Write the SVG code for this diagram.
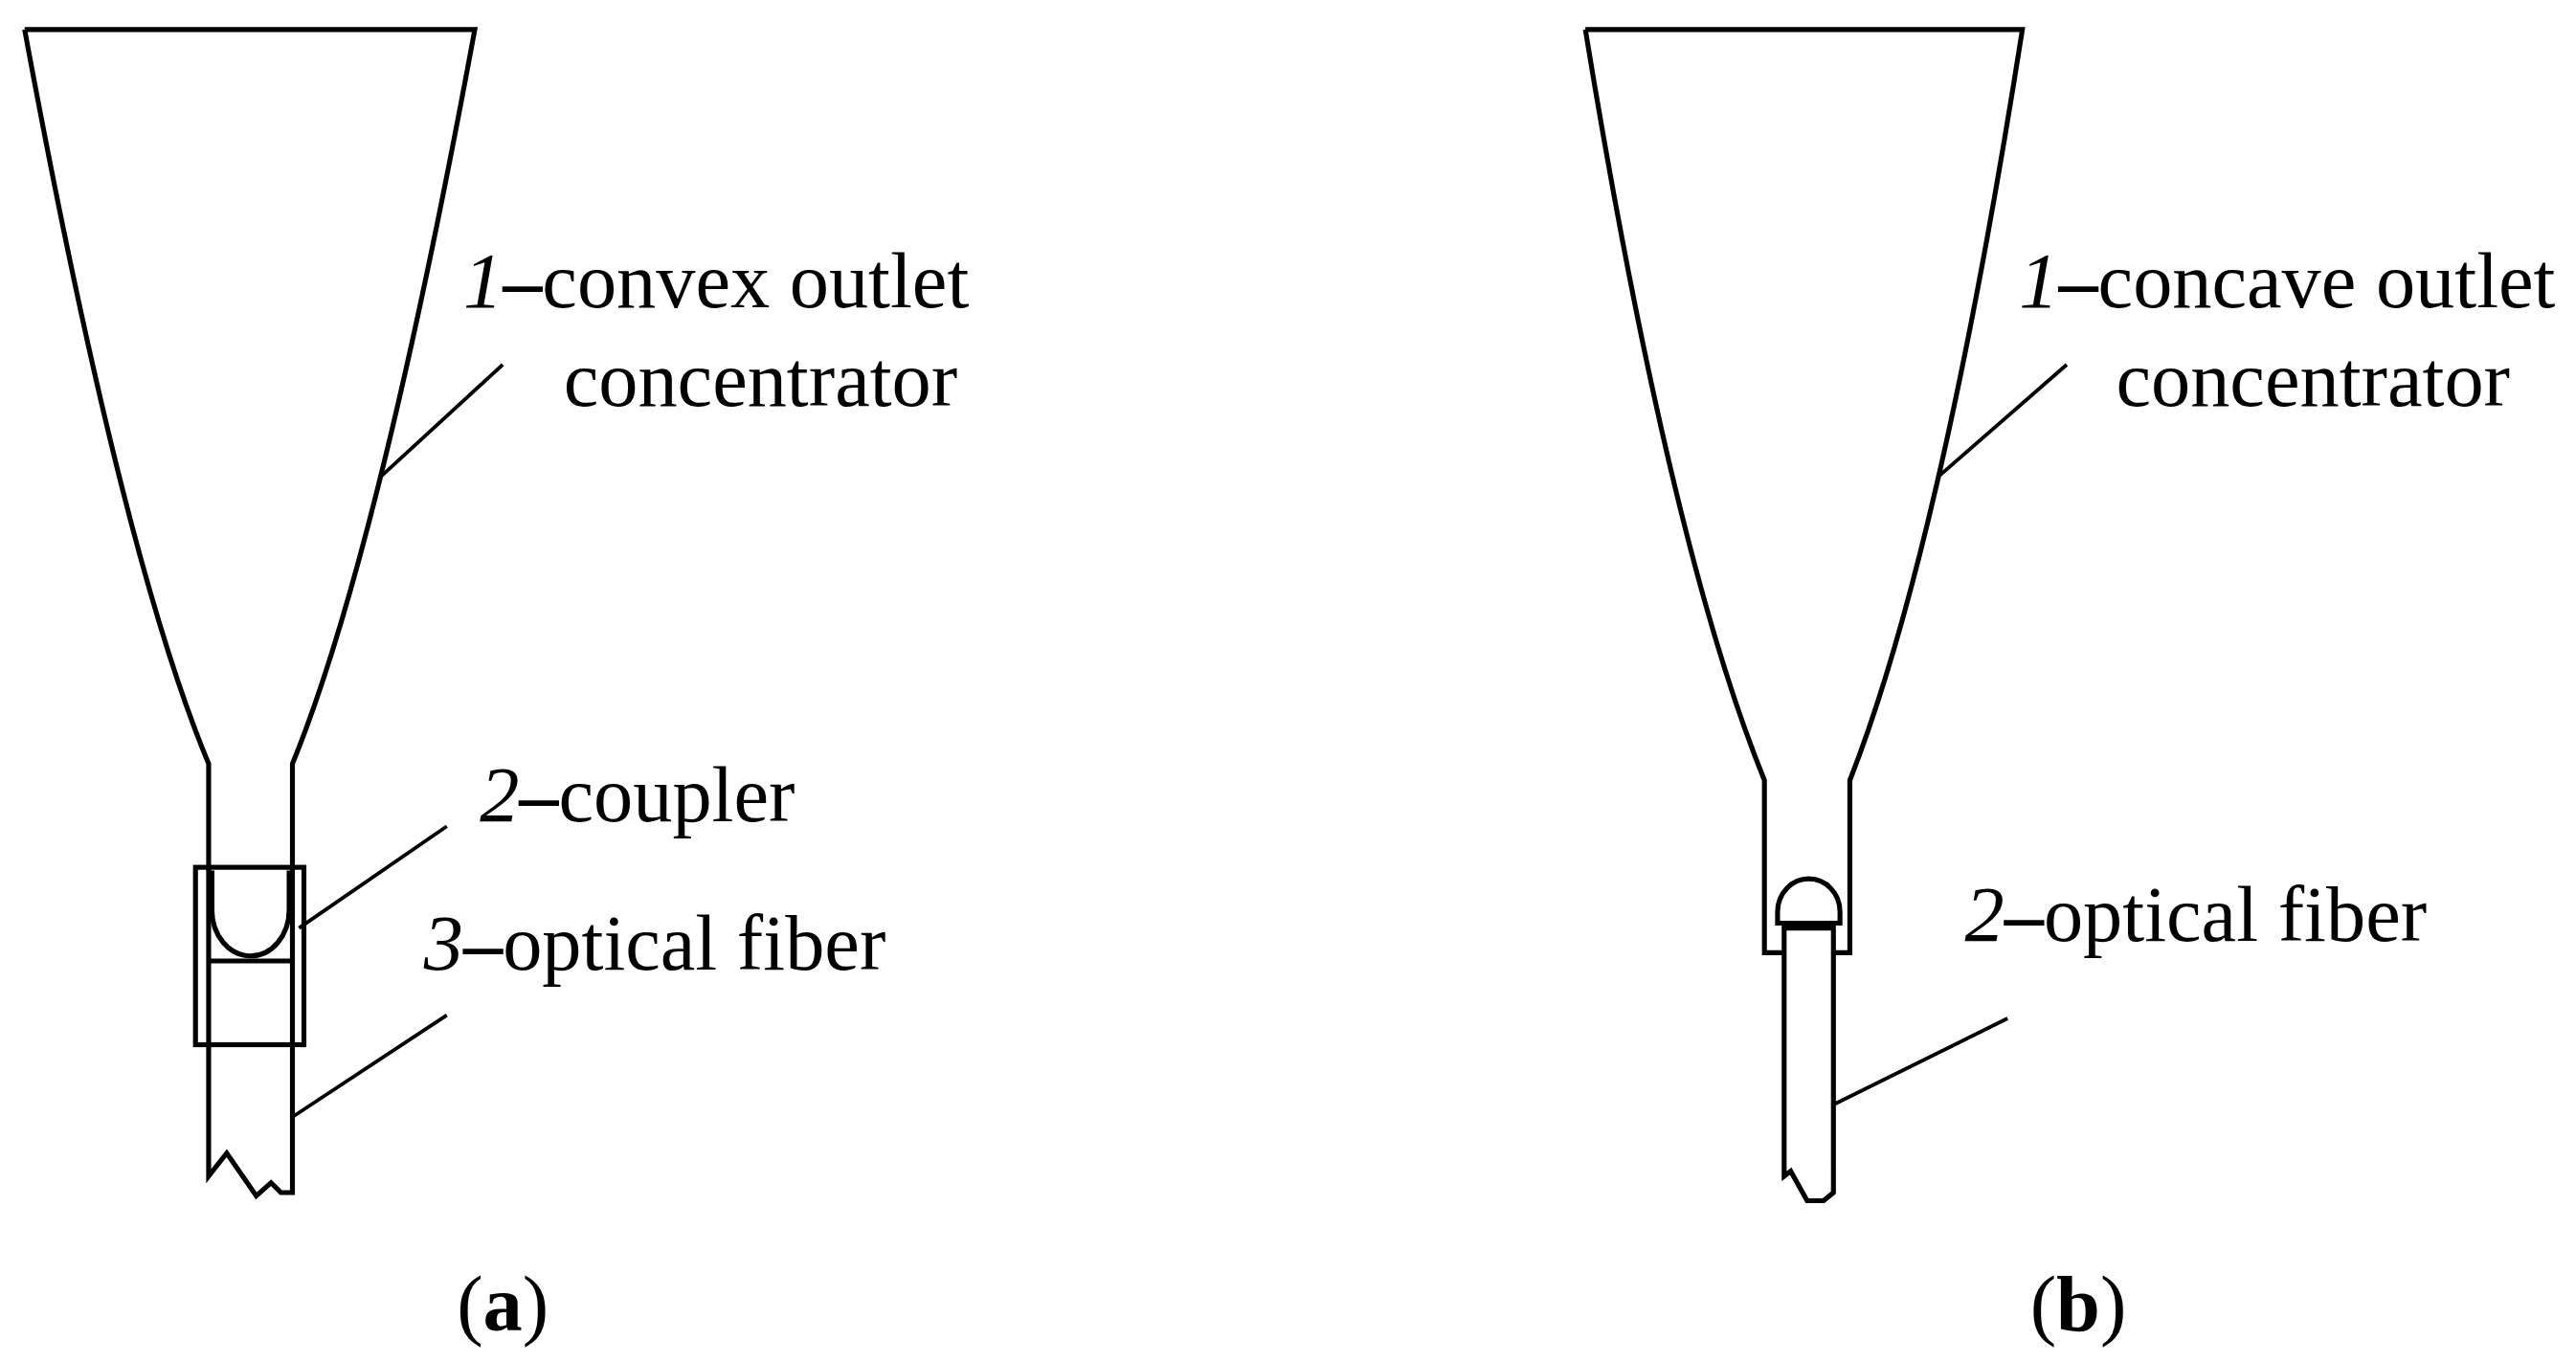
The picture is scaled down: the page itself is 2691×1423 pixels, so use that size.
<svg xmlns="http://www.w3.org/2000/svg" width="2691" height="1423" viewBox="0 0 2691 1423">
<style>
.s{fill:none;stroke:#000;stroke-width:3;stroke-linejoin:miter}
.l{fill:none;stroke:#000;stroke-width:2.2}
text{font-family:"Liberation Serif","Times New Roman",serif;font-size:48px;fill:#000}
.i{font-style:italic}
</style>
<rect width="2691" height="1423" fill="#fff"/>
<g transform="scale(1.7162)">
<g id="concentrator-a">
<path class="s" d="M15,18 L289,18 Q230,338 178,465 L178,530 M15,18 Q74,338 127,465 L127,530"/>
</g>
<g id="coupler-a">
<rect class="s" x="119" y="528" width="66" height="108"/>
<path class="s" d="M127,528 L127,636 M178,528 L178,636 M127,585 L178,585"/>
<path class="s" d="M129,530 L129,554 A23.5,28 0 0 0 176,554 L176,530"/>
</g>
<g id="fiber-a">
<path class="s" d="M127,636 L127,716 L138,702 L156,728 L165,720 L171,726 L178,726 L178,636"/>
</g>
<g id="concentrator-b">
<path class="s" d="M965,18 L1231,18 Q1181.5,333.5 1126,475 L1126,580 L1116,580 M965,18 Q1016.5,333.5 1074,475 L1074,580 L1086,580"/>
</g>
<g id="fiber-b">
<path class="s" d="M1086,565 L1086,716 L1090,713 L1100,731 L1110,731 L1116,726 L1116,565 Z"/>
<path class="s" d="M1082,562 L1082,555 A19,20 0 0 1 1120,555 L1120,562 Z"/>
</g>
<g id="connectors">
<path class="l" d="M232,290 L306,222 M182,565 L272,503 M178,680 L272,618 M1180,290 L1258,222 M1117,672 L1222,620"/>
</g>
<g id="labels">
<text x="282" y="187"><tspan class="i">1</tspan><tspan font-weight="bold">–</tspan>convex outlet</text>
<text x="343" y="247">concentrator</text>
<text x="292" y="500"><tspan class="i">2</tspan><tspan font-weight="bold">–</tspan>coupler</text>
<text x="258" y="590"><tspan class="i">3</tspan><tspan font-weight="bold">–</tspan>optical fiber</text>
<text x="1229" y="187"><tspan class="i">1</tspan><tspan font-weight="bold">–</tspan>concave outlet</text>
<text x="1288" y="247">concentrator</text>
<text x="1196" y="573"><tspan class="i">2</tspan><tspan font-weight="bold">–</tspan>optical fiber</text>
<text x="306" y="810" text-anchor="middle">(<tspan font-weight="bold">a</tspan>)</text>
<text x="1265" y="810" text-anchor="middle">(<tspan font-weight="bold">b</tspan>)</text>
</g>
</g>
</svg>
